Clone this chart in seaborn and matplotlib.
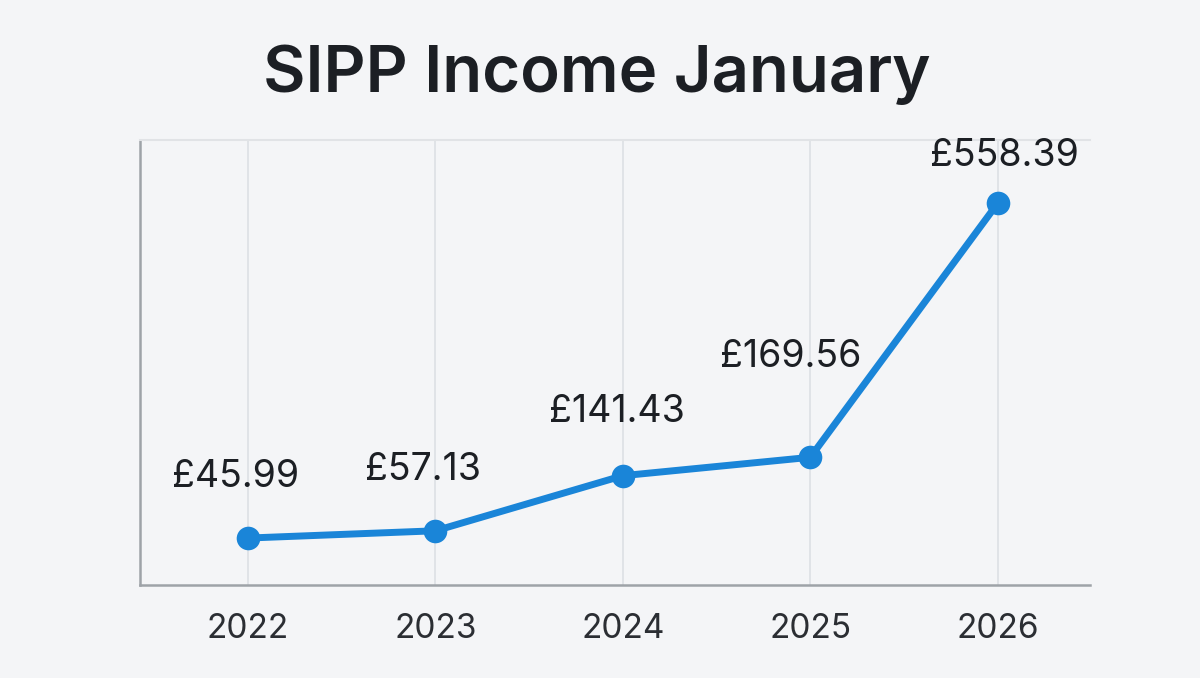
import matplotlib
matplotlib.use("Agg")
import matplotlib.pyplot as plt
import pandas as pd
import seaborn as sns

# 数据
years = [2022, 2023, 2024, 2025, 2026]
income = [45.99, 57.13, 141.43, 169.56, 558.39]
labels = ["£45.99", "£57.13", "£141.43", "£169.56", "£558.39"]

df = pd.DataFrame({"Year": years, "Income": income})

sns.set_theme(style="whitegrid")
plt.rcParams["font.family"] = ["Inter", "DejaVu Sans"]

bg = "#f4f5f7"
line_color = "#1a85d8"

fig = plt.figure(figsize=(12, 6.78), dpi=100, facecolor=bg)
ax = fig.add_axes([0.1167, 0.137, 0.7913, 0.6565])
ax.set_facecolor(bg)

sns.lineplot(
    data=df,
    x="Year",
    y="Income",
    ax=ax,
    color=line_color,
    linewidth=5,
    marker="o",
    markersize=17,
    markeredgewidth=0,
)

# 数值标签 (偏移量，单位 points)
offsets = [(-9, 44), (-9, 44), (-4, 46), (-14, 72), (5, 34)]
for x, y, text, off in zip(years, income, labels, offsets):
    ax.annotate(
        text,
        (x, y),
        xytext=off,
        textcoords="offset points",
        ha="center",
        va="center",
        fontsize=27,
        color="#1c1f24",
    )

ax.set_xlim(2022 - 0.576, 2026 + 0.49)
ax.set_ylim(-26, 655)
ax.set_xticks(years)
ax.set_xticklabels([str(y) for y in years], fontsize=24, color="#2b2e33")
ax.set_yticks([])
ax.set_xlabel("")
ax.set_ylabel("")
ax.tick_params(axis="x", length=0, pad=20)

ax.grid(axis="x", color="#dde0e4", linewidth=1.2)
ax.grid(axis="y", visible=False)

for side in ["left", "bottom"]:
    ax.spines[side].set_color("#9ea3a8")
    ax.spines[side].set_linewidth(1.8)
ax.spines["top"].set_color("#e1e3e6")
ax.spines["top"].set_linewidth(1.5)
ax.spines["right"].set_visible(False)

fig.text(
    0.497,
    0.89,
    "SIPP Income January",
    ha="center",
    va="center",
    fontsize=47,
    fontweight="semibold",
    color="#1c1f24",
)

fig.savefig("out.png", dpi=100, facecolor=bg)
